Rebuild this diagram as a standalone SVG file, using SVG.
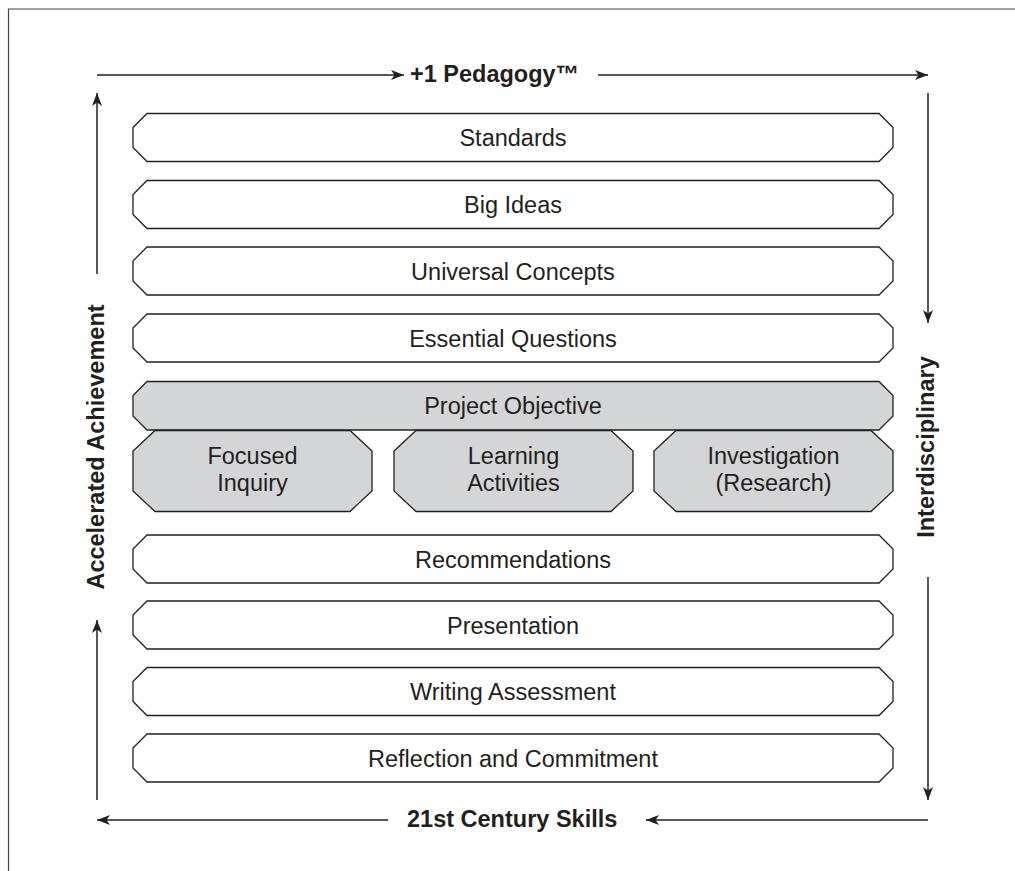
<svg xmlns="http://www.w3.org/2000/svg" width="1015" height="871" viewBox="0 0 1015 871">
  <style>
    .box { fill: #ffffff; stroke: #231f20; stroke-width: 1.3; }
    .gray { fill: #d4d5d7; stroke: #231f20; stroke-width: 1.3; }
    .lbl { font-family: "Liberation Sans", Arial, sans-serif; font-size: 23.5px; fill: #231f20; text-anchor: middle; }
    .bold { font-family: "Liberation Sans", Arial, sans-serif; font-size: 23.5px; font-weight: bold; fill: #231f20; }
    .line { stroke: #231f20; stroke-width: 1.5; fill: none; }
    .frame { stroke: #444; stroke-width: 1.2; fill: none; }
  </style>
  <defs>
    <marker id="ah" viewBox="0 -6 14 12" markerWidth="14" markerHeight="12" refX="13" refY="0" orient="auto" markerUnits="userSpaceOnUse">
      <path d="M0,-5 L13,0 L0,5 L3.5,0 Z" fill="#231f20"/>
    </marker>
  </defs>
  <rect width="1015" height="871" fill="#ffffff"/>
  <g id="frame">
    <path class="frame" d="M8.5,871 L8.5,9 L1015,9"/>
  </g>
  <g id="connectors">
    <line class="line" x1="97" y1="75" x2="404" y2="75" marker-end="url(#ah)"/>
    <line class="line" x1="598" y1="75" x2="928" y2="75" marker-end="url(#ah)"/>
    <line class="line" x1="928" y1="93" x2="928" y2="323" marker-end="url(#ah)"/>
    <line class="line" x1="928" y1="577" x2="928" y2="800" marker-end="url(#ah)"/>
    <line class="line" x1="928" y1="820" x2="646" y2="820" marker-end="url(#ah)"/>
    <line class="line" x1="388" y1="820" x2="97" y2="820" marker-end="url(#ah)"/>
    <line class="line" x1="97" y1="800" x2="97" y2="620" marker-end="url(#ah)"/>
    <line class="line" x1="97" y1="274" x2="97" y2="93" marker-end="url(#ah)"/>
  </g>
  <g id="label-top"><text class="bold" x="410" y="82">+1 Pedagogy™</text></g>
  <g id="label-bottom"><text class="bold" x="407" y="827">21st Century Skills</text></g>
  <g id="label-left"><text class="bold" transform="translate(97,447) rotate(-90)" y="7" text-anchor="middle">Accelerated Achievement</text></g>
  <g id="label-right"><text class="bold" transform="translate(928,447) rotate(-90)" y="6" text-anchor="middle">Interdisciplinary</text></g>

  <g id="standards">
    <path class="box" d="M147,113.5 H879 L893,127.5 V147.5 L879,161.5 H147 L133,147.5 V127.5 Z"/>
    <text class="lbl" x="513" y="146">Standards</text>
  </g>
  <g id="big-ideas">
    <path class="box" d="M147,180.5 H879 L893,194.5 V214.5 L879,228.5 H147 L133,214.5 V194.5 Z"/>
    <text class="lbl" x="513" y="213">Big Ideas</text>
  </g>
  <g id="universal-concepts">
    <path class="box" d="M147,247 H879 L893,261 V281 L879,295 H147 L133,281 V261 Z"/>
    <text class="lbl" x="513" y="279.5">Universal Concepts</text>
  </g>
  <g id="essential-questions">
    <path class="box" d="M147,314 H879 L893,328 V348 L879,362 H147 L133,348 V328 Z"/>
    <text class="lbl" x="513" y="346.5">Essential Questions</text>
  </g>
  <g id="project-objective">
    <path class="gray" d="M147,381.5 H879 L893,395.5 V416 L879,430 H147 L133,416 V395.5 Z"/>
    <text class="lbl" x="513" y="414">Project Objective</text>
  </g>
  <g id="focused-inquiry">
    <path class="gray" d="M155,430.5 H350 L372,451 V491 L350,511.5 H155 L133,491 V451 Z"/>
    <text class="lbl" x="252.5" y="464">Focused</text>
    <text class="lbl" x="252.5" y="491">Inquiry</text>
  </g>
  <g id="learning-activities">
    <path class="gray" d="M416,430.5 H611 L633,451 V491 L611,511.5 H416 L394,491 V451 Z"/>
    <text class="lbl" x="513.5" y="464">Learning</text>
    <text class="lbl" x="513.5" y="491">Activities</text>
  </g>
  <g id="investigation">
    <path class="gray" d="M676,430.5 H871 L893,451 V491 L871,511.5 H676 L654,491 V451 Z"/>
    <text class="lbl" x="773.5" y="464">Investigation</text>
    <text class="lbl" x="773.5" y="491">(Research)</text>
  </g>
  <g id="recommendations">
    <path class="box" d="M147,535 H879 L893,549 V569 L879,583 H147 L133,569 V549 Z"/>
    <text class="lbl" x="513" y="567.5">Recommendations</text>
  </g>
  <g id="presentation">
    <path class="box" d="M147,601 H879 L893,615 V635 L879,649 H147 L133,635 V615 Z"/>
    <text class="lbl" x="513" y="633.5">Presentation</text>
  </g>
  <g id="writing-assessment">
    <path class="box" d="M147,667.5 H879 L893,681.5 V701.5 L879,715.5 H147 L133,701.5 V681.5 Z"/>
    <text class="lbl" x="513" y="700">Writing Assessment</text>
  </g>
  <g id="reflection-commitment">
    <path class="box" d="M147,734 H879 L893,748 V768 L879,782 H147 L133,768 V748 Z"/>
    <text class="lbl" x="513" y="767">Reflection and Commitment</text>
  </g>
</svg>
